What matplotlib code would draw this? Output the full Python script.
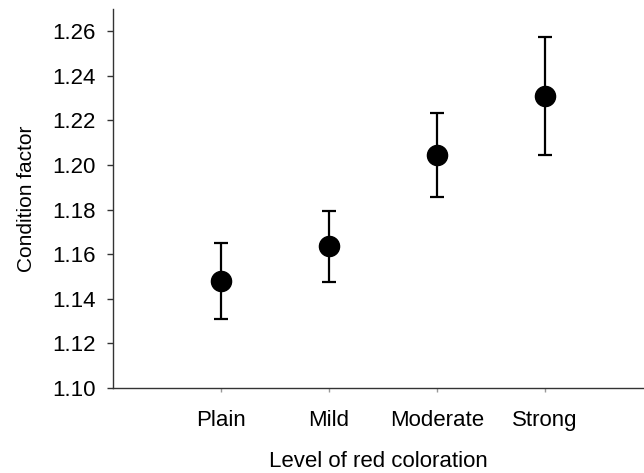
import matplotlib
matplotlib.use('Agg')
import matplotlib.pyplot as plt

# 数据
levels = ['Plain', 'Mild', 'Moderate', 'Strong']
condition = [1.148, 1.1635, 1.2045, 1.231]
err = [0.017, 0.016, 0.019, 0.0265]

plt.rcParams['font.family'] = ['Liberation Sans', 'DejaVu Sans']

fig = plt.figure(figsize=(6.44, 4.73), dpi=100)
ax = fig.add_axes([0.1755, 0.1797, 0.8245, 0.8013])

x = list(range(1, len(levels) + 1))
ax.errorbar(x, condition, yerr=err, fmt='o', color='black', markersize=14.5,
            elinewidth=1.6, capsize=4.8, capthick=1.6)

ax.set_xlim(0, 4.92)
ax.set_ylim(1.10, 1.27)
ax.set_yticks([1.10, 1.12, 1.14, 1.16, 1.18, 1.20, 1.22, 1.24, 1.26])
ax.set_yticklabels([f'{v:.2f}' for v in ax.get_yticks()])
ax.set_xticks(x)
ax.set_xticklabels(levels)

for s in ['top', 'right']:
    ax.spines[s].set_visible(False)
for s in ['left', 'bottom']:
    ax.spines[s].set_color('#333333')
    ax.spines[s].set_linewidth(1.0)

ax.tick_params(axis='y', direction='out', length=4.3, width=1, color='#333333',
               labelsize=16, pad=8)
ax.tick_params(axis='x', direction='out', length=3, width=1, color='#999999',
               labelsize=16, pad=13)

ax.set_xlabel('Level of red coloration', fontsize=16, labelpad=14)
ax.set_ylabel('Condition factor', fontsize=15, labelpad=12)

plt.savefig('out.png', dpi=100)
